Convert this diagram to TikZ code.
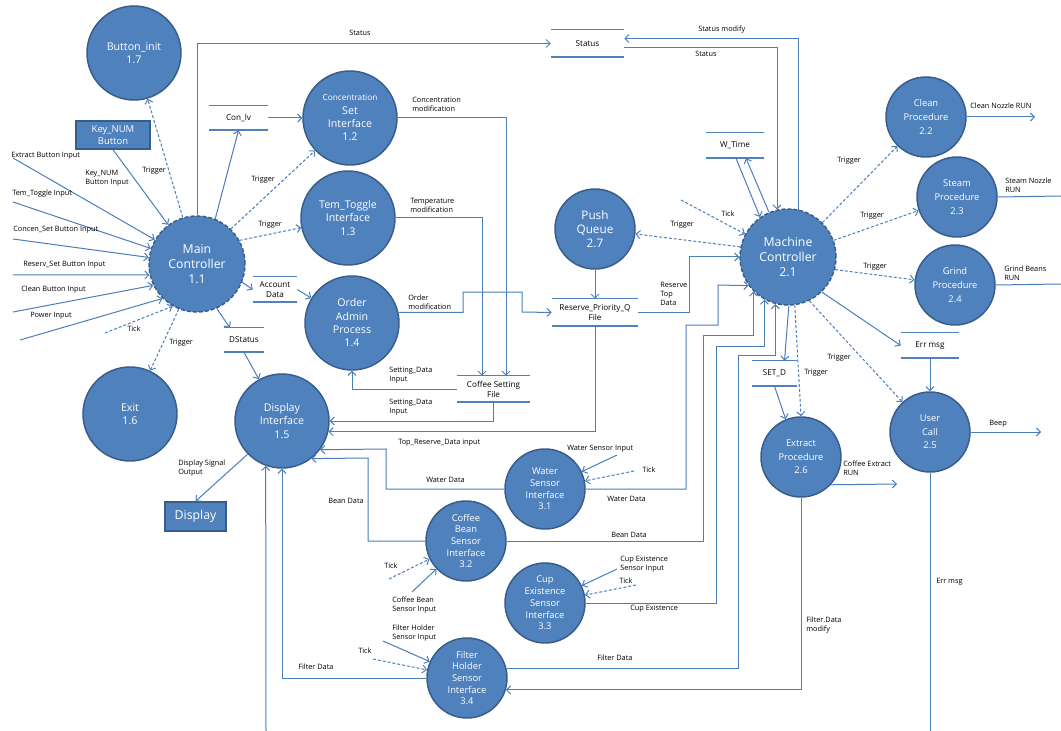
\documentclass[tikz,border=0pt]{standalone}
\usepackage{fontspec}
\setmainfont{Open Sans}
\usetikzlibrary{arrows.meta,calc}
\definecolor{cfill}{RGB}{79,129,189}
\definecolor{cbord}{RGB}{56,93,138}
\definecolor{cline}{RGB}{74,126,187}
\newcommand{\dfdlbl}{\fontsize{5.5}{6.8}\selectfont}
\newcommand{\dfdstore}{\fontsize{6.1}{7.5}\selectfont}
\begin{document}
\begin{tikzpicture}[x=0.75pt,y=-0.75pt,
  proc/.style={circle,fill=cfill,draw=cbord,line width=1.1pt,text=white,align=center,inner sep=0pt},
  pbig/.style={proc,minimum size=70.5pt,font=\fontsize{8}{10}\selectfont},
  psmall/.style={proc,minimum size=60pt,font=\fontsize{7}{10.3}\selectfont},
  psens/.style={proc,minimum size=60pt,font=\fontsize{7}{8.8}\selectfont},
  pctrl/.style={proc,minimum size=72pt,dash pattern=on 3pt off 1.5pt,font=\fontsize{9.2}{11.5}\selectfont},
  extbox/.style={rectangle,fill=cfill,draw=cbord,line width=1pt,text=white,align=center,inner sep=0pt},
  store/.style={rectangle,inner sep=0pt,align=center,font=\dfdstore},
  lab/.style={inner sep=0pt,anchor=west,align=left,font=\dfdlbl},
  flow/.style={draw=cline,line width=0.75pt},
  arr/.style={flow,-{Straight Barb[length=3pt,width=6pt]}},
  darr/.style={arr,dash pattern=on 2.2pt off 1.5pt},
  stl/.style={draw=cfill,line width=0.8pt},
  stb/.style={draw=cfill,line width=1.5pt},
]
\fill[white] (0,0) rectangle (1061,731);
\useasboundingbox (0,0) rectangle (1061,731);

% ---------- processes ----------
\node[pbig] (bi) at (134,53) {Button\_init\\1.7};
\node[extbox,minimum width=55.5pt,minimum height=21pt,font=\fontsize{7.1}{9.3}\selectfont] (knb) at (113,135) {Key\_NUM\\Button};
\node[pctrl] (mc1) at (197,264) {Main\\Controller\\1.1};
\node[pbig] (csi) at (350,118) {{\fontsize{6.2}{10}\selectfont Concentration}\\Set\\Interface\\1.2};
\node[pbig] (tti) at (348,218) {Tem\_Toggle\\Interface\\1.3};
\node[pbig] (oap) at (352,323) {Order\\Admin\\Process\\1.4};
\node[pbig] (di) at (282,421) {Display\\Interface\\1.5};
\node[pbig] (exit) at (130,414) {Exit\\1.6};
\node[extbox,minimum width=45.75pt,minimum height=21.75pt,font=\fontsize{9.2}{11}\selectfont] (disp) at (195.5,516.5) {Display};
\node[proc,minimum size=60pt,font=\fontsize{8.8}{10.3}\selectfont] (pq) at (595,229) {Push\\Queue\\2.7};
\node[pctrl] (mc) at (788,257) {Machine\\Controller\\2.1};
\node[psmall] (clean) at (926,117) {Clean\\Procedure\\2.2};
\node[psmall] (steam) at (957,197) {Steam\\Procedure\\2.3};
\node[psmall] (grind) at (955,285) {Grind\\Procedure\\2.4};
\node[psmall] (uc) at (930,432) {User\\Call\\2.5};
\node[psmall] (xp) at (801,457) {Extract\\Procedure\\2.6};
\node[psens] (ws) at (545,489) {Water\\Sensor\\Interface\\3.1};
\node[psens] (cb) at (466,541) {Coffee\\Bean\\Sensor\\Interface\\3.2};
\node[psens] (ce) at (545,603) {Cup\\Existence\\Sensor\\Interface\\3.3};
\node[psens] (fh) at (467,678) {Filter\\Holder\\Sensor\\Interface\\3.4};

% ---------- data stores ----------
\node[store,minimum width=54.75pt,minimum height=20.25pt] (status) at (587.5,43.5) {Status};
\node[store,minimum width=44.25pt,minimum height=18pt] (conlv) at (238.5,118) {Con\_lv};
\node[store,minimum width=33pt,minimum height=18.75pt] (acct) at (275,289.5) {Account\\Data};
\node[store,minimum width=30pt,minimum height=18pt] (dstat) at (244,340) {DStatus};
\node[store,minimum width=54.75pt,minimum height=19.5pt] (csf) at (493.5,389) {Coffee Setting\\File};
\node[store,minimum width=64.5pt,minimum height=20.25pt] (rpq) at (595,312.5) {Reserve\_Priority\_Q\\File};
\node[store,minimum width=43.5pt,minimum height=18.75pt] (wtime) at (735,145.5) {W\_Time};
\node[store,minimum width=43.5pt,minimum height=18.75pt] (errm) at (930,345.5) {Err msg};
\node[store,minimum width=33.75pt,minimum height=18.75pt] (setd) at (774.5,373.5) {SET\_D};
\foreach \s in {status,conlv,acct,dstat,csf,rpq,wtime,errm,setd}{
  \draw[stl] (\s.north west) -- (\s.north east);
  \draw[stb] (\s.south west) -- (\s.south east);
}

% ---------- free ends ----------
\coordinate (inEB) at (13,158);
\coordinate (inTT) at (13,202);
\coordinate (inCS) at (13,239);
\coordinate (inRS) at (13,275);
\coordinate (inCB) at (13,312);
\coordinate (inPW) at (20,340);
\coordinate (inTK) at (105,333);
\coordinate (tkmc) at (681,200);
\coordinate (oClean) at (1035,117);
\coordinate (oSteam) at (1061,196);
\coordinate (oGrind) at (1061,284);
\coordinate (oCE) at (897,484);
\coordinate (oBeep) at (1041,432);
\coordinate (oErr) at (930,731);
\coordinate (oDI) at (266,731);
\coordinate (iWS) at (617,455);
\coordinate (tWS) at (634,471);
\coordinate (iCE) at (617,569);
\coordinate (tCE) at (636,585);
\coordinate (iCB) at (412,592);
\coordinate (tCB) at (389,579);
\coordinate (iFH) at (383,641);
\coordinate (tFH) at (373,659);

% ---------- Main Controller flows ----------
\draw[arr] (inEB) -- (mc1);
\draw[arr] (inTT) -- (mc1);
\draw[arr] (inCS) -- (mc1);
\draw[arr] (inRS) -- (mc1.193);
\draw[arr] (inCB) -- (mc1.206);
\draw[arr] (inPW) -- (mc1.225);
\draw[darr] (inTK) -- (mc1.240);
\draw[arr] (knb.south) -- (mc1);
\draw[darr] (mc1.107) -- (bi);
\draw[darr] (mc1.248) -- (exit);
\draw[arr] (mc1.68) -- (conlv.south);
\draw[arr] (conlv.east) -- (csi);
\draw[darr] (mc1.46) -- (csi);
\draw[darr] (mc1.29) -- (tti);
\draw[arr] (mc1.-22) -- (acct.west);
\draw[arr] (acct.east) -- (oap);
\draw[arr] (mc1.-66) -- ($(dstat.north west)+(6,0)$);
\draw[arr] (dstat.south) -- (di);
\draw[arr] (mc1.north) |- (status.west);
\draw[arr] (csi.east) -| ($(csf.north)+(12.5,0)$);
\draw[arr] (tti.east) -| ($(csf.north)+(-11.5,0)$);
\draw[arr] (oap.13) -| (463,292) -| (522,312) -- (rpq.west);
\draw[arr] (csf.west) -| (oap.south);
\draw[arr] (csf.south) |- (di.east);
\draw[arr] (rpq.south) |- (di.-13);
\draw[arr] (di.224) -- (disp.north);
\draw[arr] (oDI) -- (di.250);

% ---------- Machine Controller flows ----------
\draw[arr] (pq.south) -- (rpq.north);
\draw[arr] (rpq.east) -| (689,257) -- (mc.west);
\draw[darr] (mc.168) -- (pq);
\draw[darr] (tkmc) -- (mc);
\draw[arr] ($(wtime.south)+(1,0)$) -- (mc.125);
\draw[arr] (mc.113) -- ($(wtime.south)+(11,0)$);
\draw[arr] ($(status.east)+(0,4)$) -| (mc.103);
\draw[arr] (mc.77) |- ($(status.east)+(0,-5)$);
\draw[darr] (mc.45) -- (clean);
\draw[darr] (mc.20) -- (steam);
\draw[darr] (mc.-15) -- (grind);
\draw[arr] (clean.east) -- (oClean);
\draw[flow] (steam.east) -- (oSteam);
\draw[flow] (grind.east) -- (oGrind);
\draw[arr] (mc.-46) -- (errm.west);
\draw[arr] (errm.south) -- (uc.north);
\draw[darr] (mc.-64) -- (uc);
\draw[arr] (mc.-89) -- ($(setd.north)+(10,0)$);
\draw[arr] (setd.south) -- (xp.112);
\draw[darr] (mc.-82) -- (xp.north);
\draw[arr] (xp.-43) -- (oCE);
\draw[arr] (uc.east) -- (oBeep);
\draw[flow] (uc.south) -- (oErr);
\draw[arr] (xp.south) |- (fh.-17);

% ---------- sensor flows ----------
\draw[arr] (fh.14) -| (738,355) -| (mc.255);
\draw[arr] (ws.east) -| (686,325) -| (718,285) -- (mc.216);
\draw[arr] (cb.east) -| (703,335) -| (mc.225);
\draw[arr] (ce.east) -| (716,346) -| (mc.241);
\draw[arr] (ws.west) -| (386,449) -- (di.-37);
\draw[arr] (cb.west) -| (368,458) -- (di.-52);
\draw[arr] (fh.west) -| (di.south);
\draw[arr] (iWS) -- (ws);
\draw[darr] (tWS) -- (ws);
\draw[arr] (iCE) -- (ce);
\draw[darr] (tCE) -- (ce);
\draw[arr] (iCB) -- (cb);
\draw[darr] (tCB) -- (cb);
\draw[arr] (iFH) -- (fh);
\draw[darr] (tFH) -- (fh);

% ---------- labels ----------
\node[lab] (l1) at (11,156) {Extract Button Input};
\node[lab] (l2) at (85,178) {Key\_NUM\\Button Input};
\node[lab] (l3) at (142,171) {Trigger};
\node[lab] (l4) at (12,194) {Tem\_Toggle Input};
\node[lab] (l5) at (13,230) {Concen\_Set Button Input};
\node[lab] (l6) at (23,265) {Reserv\_Set Button Input};
\node[lab] (l7) at (21,290) {Clean Button Input};
\node[lab] (l8) at (30,316) {Power Input};
\node[lab] (l9) at (127,329) {Tick};
\node[lab] (l10) at (169,343) {Trigger};
\node[lab] (l11) at (251,180) {Trigger};
\node[lab] (l12) at (258,225) {Trigger};
\node[lab,anchor=center] (l13) at (360,33) {Status};
\node[lab] (l14) at (412,104.5) {Concentration\\modification};
\node[lab] (l15) at (410,205) {Temperature\\modification};
\node[lab] (l16) at (408,302.5) {Order\\modification};
\node[lab] (l17) at (389,375.5) {Setting\_Data\\Input};
\node[lab] (l18) at (389,407.5) {Setting\_Data\\Input};
\node[lab] (l19) at (398,443) {Top\_Reserve\_Data input};
\node[lab] (l20) at (426,480) {Water Data};
\node[lab] (l21) at (607,499) {Water Data};
\node[lab] (l22) at (611,535) {Bean Data};
\node[lab] (l23) at (328,501) {Bean Data};
\node[lab] (l24) at (567,449) {Water Sensor Input};
\node[lab] (l25) at (642,470) {Tick};
\node[lab] (l26) at (620,564.5) {Cup Existence\\Sensor Input};
\node[lab] (l27) at (619,581) {Tick};
\node[lab] (l28) at (630,609) {Cup Existence};
\node[lab] (l29) at (384,566) {Tick};
\node[lab] (l30) at (392,605.5) {Coffee Bean\\Sensor Input};
\node[lab] (l31) at (392,633) {Filter Holder\\Sensor Input};
\node[lab] (l32) at (358,651) {Tick};
\node[lab] (l33) at (597,658) {Filter Data};
\node[lab] (l34) at (298,667) {Filter Data};
\node[lab] (l35) at (178,468) {Display Signal\\Output};
\node[lab] (l36) at (698,29.5) {Status modify};
\node[lab] (l37) at (695,54) {Status};
\node[lab] (l38) at (670,225) {Trigger};
\node[lab] (l39) at (721,214) {Tick};
\node[lab] (l40) at (660,294) {Reserve\\Top\\Data};
\node[lab] (l41) at (837,160.5) {Trigger};
\node[lab] (l42) at (860,216) {Trigger};
\node[lab] (l43) at (863,266.5) {Trigger};
\node[lab] (l44) at (970,105.5) {Clean Nozzle RUN};
\node[lab] (l45) at (1005,185.5) {Steam Nozzle\\RUN};
\node[lab] (l46) at (1004,273.5) {Grind Beans\\RUN};
\node[lab] (l47) at (827,358) {Trigger};
\node[lab] (l48) at (804,373) {Trigger};
\node[lab] (l49) at (843,468.5) {Coffee Extract\\RUN};
\node[lab] (l50) at (989,424) {Beep};
\node[lab] (l51) at (936,582) {Err msg};
\node[lab] (l52) at (806,625.5) {Filter.Data\\modify};
\end{tikzpicture}
\end{document}
